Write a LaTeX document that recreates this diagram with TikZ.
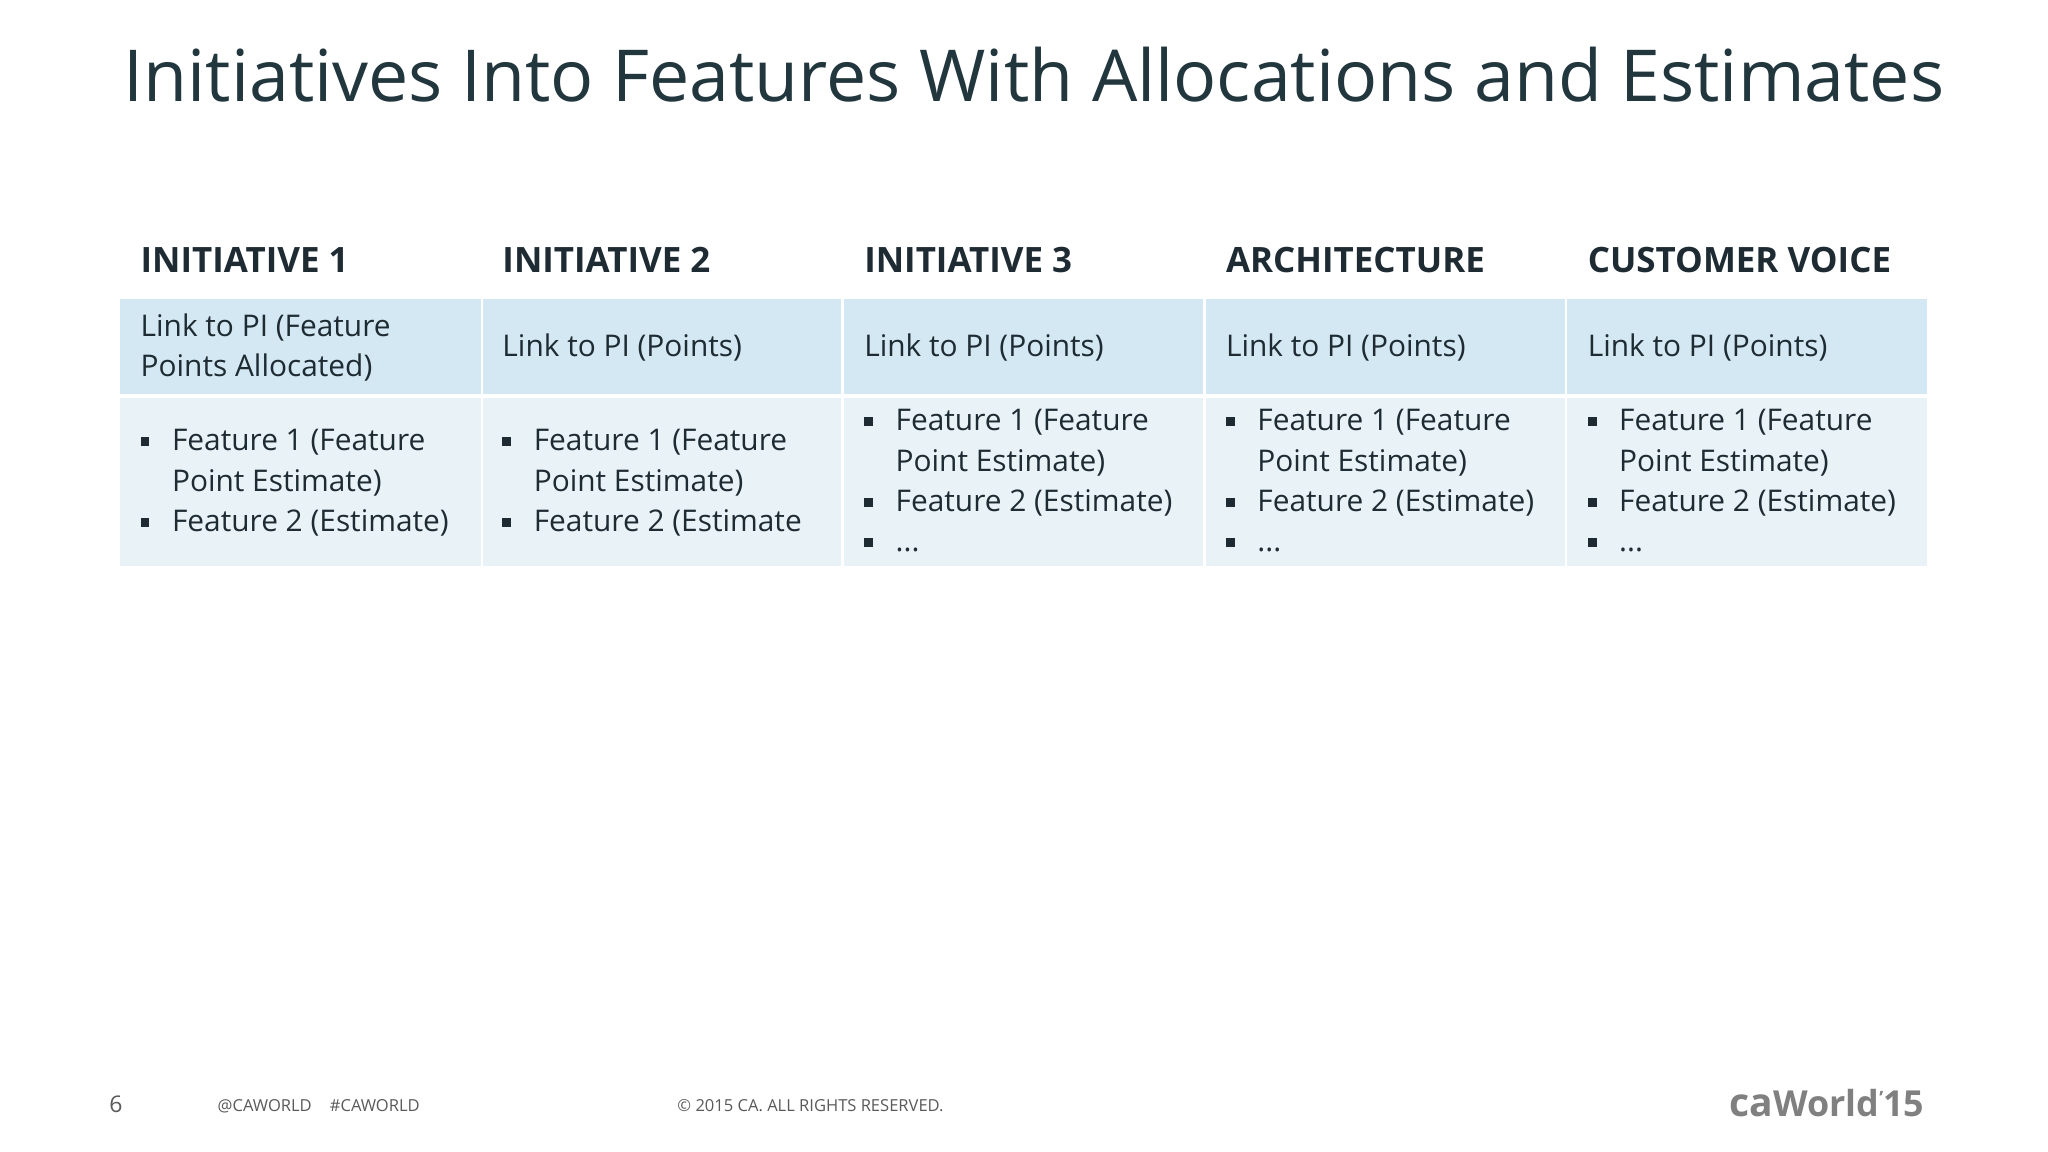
\documentclass[tikz,border=0pt]{standalone}
\usepackage{fontspec}
\setmainfont{Open Sans}
\definecolor{titlec}{HTML}{22363E}
\definecolor{headc}{HTML}{1E2B33}
\definecolor{rowa}{HTML}{D3E8F2}
\definecolor{rowb}{HTML}{E9F3F7}
\definecolor{footc}{HTML}{5A5A5A}
\newcommand{\bsq}{\raisebox{0.3ex}{\rule{0.55ex}{0.55ex}}}
\newcommand{\blist}[1]{\begin{tabular}{@{}p{0.24cm}@{}l@{}}#1\end{tabular}}
\tikzset{
  cella/.style={fill=rowa,draw=none},
  cellb/.style={fill=rowb,draw=none},
  head/.style={anchor=base west,font=\bfseries\fontsize{7.6pt}{9pt}\selectfont,text=headc,inner sep=0},
  body/.style={anchor=west,font=\fontsize{6.5pt}{8.8pt}\selectfont,text=headc,inner sep=0,align=left},
  foot/.style={anchor=base west,text=footc,inner sep=0},
}
\begin{document}
\begin{tikzpicture}[x=0.01cm,y=-0.01cm]
\useasboundingbox[fill=white] (0,0) rectangle (1568,882);
\node[anchor=base west,inner sep=0,text=titlec,font=\fontsize{15.6pt}{18pt}\selectfont] (title) at (94,78) {Initiatives Into Features With Allocations and Estimates};
% columns
\foreach \i/\xa/\xb in {1/92/368,2/370/644,3/646/921,4/923/1198,5/1200/1475}{
  \fill[cella] (\xa,229) rectangle (\xb,302);
  \fill[cellb] (\xa,305) rectangle (\xb,433);
}
\node[head] (h1) at (107,209) {INITIATIVE 1};
\node[head] (h2) at (384,209) {INITIATIVE 2};
\node[head] (h3) at (661,209) {INITIATIVE 3};
\node[head] (h4) at (938,209) {ARCHITECTURE};
\node[head] (h5) at (1215,209) {CUSTOMER VOICE};
\node[body] (l1) at (107,266) {Link to PI (Feature\\Points Allocated)};
\node[body] (l2) at (384,266) {Link to PI (Points)};
\node[body] (l3) at (661,266) {Link to PI (Points)};
\node[body] (l4) at (938,266) {Link to PI (Points)};
\node[body] (l5) at (1215,266) {Link to PI (Points)};
\node[body] (b1) at (107,370) {\blist{\bsq & Feature 1 (Feature\\ & Point Estimate)\\ \bsq & Feature 2 (Estimate)}};
\node[body] (b2) at (384,370) {\blist{\bsq & Feature 1 (Feature\\ & Point Estimate)\\ \bsq & Feature 2 (Estimate}};
\node[body] (b3) at (661,370) {\blist{\bsq & Feature 1 (Feature\\ & Point Estimate)\\ \bsq & Feature 2 (Estimate)\\ \bsq & ...}};
\node[body] (b4) at (938,370) {\blist{\bsq & Feature 1 (Feature\\ & Point Estimate)\\ \bsq & Feature 2 (Estimate)\\ \bsq & ...}};
\node[body] (b5) at (1215,370) {\blist{\bsq & Feature 1 (Feature\\ & Point Estimate)\\ \bsq & Feature 2 (Estimate)\\ \bsq & ...}};
% footer
\node[foot,font=\fontsize{5pt}{6pt}\selectfont] (pg) at (83,852) {6};
\node[foot,font=\fontsize{3.6pt}{5pt}\selectfont] (tw) at (166,851) {@CAWORLD\hspace{1.1em}\#CAWORLD};
\node[foot,font=\fontsize{3.6pt}{5pt}\selectfont] (cr) at (518,851) {© 2015 CA. ALL RIGHTS RESERVED.};
\node[foot,anchor=base east,text=gray,font=\bfseries\fontsize{7.8pt}{9pt}\selectfont] (logo) at (1474,855) {{\fontsize{8.5pt}{9pt}\selectfont ca}World\raisebox{0.6ex}{\fontsize{4pt}{5pt}\selectfont ’}15};
\end{tikzpicture}
\end{document}
